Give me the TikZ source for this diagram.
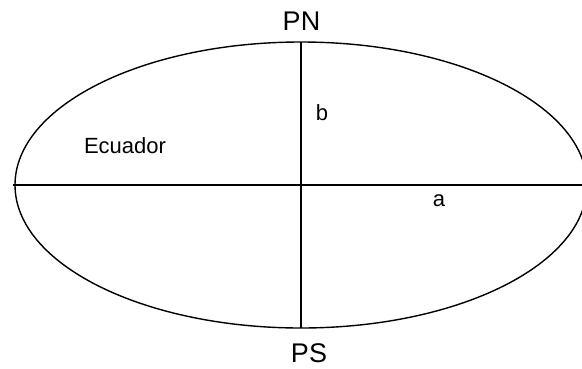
\documentclass[tikz,border=0pt]{standalone}
\usepackage{fontspec}
\setmainfont{Liberation Sans}
\begin{document}
\begin{tikzpicture}[x=1pt,y=-1pt,
  axis/.style={line width=1.4pt,black},
  lbl/.style={inner sep=0pt,font=\fontsize{22}{26}\selectfont},
  pole/.style={inner sep=0pt,font=\fontsize{27}{32}\selectfont}]
\useasboundingbox (0,0) rectangle (582,368);
\clip (0,0) rectangle (582,368);
\coordinate (C) at (301,185);
\draw[axis] (C) ellipse [x radius=286, y radius=143];
\coordinate (L) at (13,185);
\coordinate (R) at (582,185);
\coordinate (T) at (301,42);
\coordinate (B) at (301,328);
\draw[axis] (L) -- (R);
\draw[axis] (T) -- (B);
\node[pole] (pn) at (301.5,21) {PN};
\node[pole] (ps) at (309,353) {PS};
\node[lbl] (b) at (322,113) {b};
\node[lbl] (ec) at (125,146) {Ecuador};
\node[lbl] (a) at (439,201) {a};
\end{tikzpicture}
\end{document}
